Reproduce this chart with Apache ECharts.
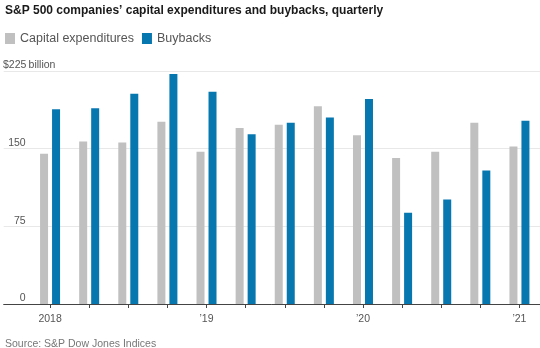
<!DOCTYPE html>
<html>
<head>
<meta charset="utf-8">
<script src="https://cdn.jsdelivr.net/npm/echarts@6/dist/echarts.min.js"></script>
<style>
  html, body { margin: 0; padding: 0; background: #fff; }
  #chart { width: 540px; height: 348px; }
</style>
</head>
<body>
<div id="chart"></div>
<script>
// Quarterly S&P 500 figures, billions of dollars
const quarters = ['2018 Q1', '2018 Q2', '2018 Q3', '2018 Q4',
                  '2019 Q1', '2019 Q2', '2019 Q3', '2019 Q4',
                  '2020 Q1', '2020 Q2', '2020 Q3', '2020 Q4',
                  '2021 Q1'];
const tickLabels = ['2018', '', '', '', '\u201919', '', '', '', '\u201920', '', '', '', '\u201921'];
const capex = [145, 157, 156, 176, 147, 170, 173, 191, 163, 141, 147, 175, 152];
const buybacks = [188, 189, 203, 222, 205, 164, 175, 180, 198, 88, 101, 129, 177];
const yTicks = [0, 75, 150, 225];

const FONT = '"Liberation Sans Narrow", "Liberation Sans", sans-serif';
const GRAY = '#c0c0c0';
const BLUE = '#0777b0';

const chart = echarts.init(document.getElementById('chart'), null, { renderer: 'canvas' });

const yMax = yTicks[yTicks.length - 1];
const yStep = yTicks[1] - yTicks[0];

chart.setOption({
  animation: false,
  textStyle: { fontFamily: FONT },
  title: [
    {
      text: 'S&P 500 companies\u2019 capital expenditures and buybacks, quarterly',
      left: 0, top: 0,
      textStyle: { fontFamily: FONT, fontSize: 12, fontWeight: 'bold', color: '#1a1a1a' }
    },
    {
      text: 'Source: S&P Dow Jones Indices',
      left: 0, top: 334,
      textStyle: { fontFamily: FONT, fontSize: 10.5, fontWeight: 'normal', color: '#777' }
    }
  ],
  legend: {
    left: 0, top: 27,
    icon: 'rect',
    itemWidth: 10, itemHeight: 11, itemGap: 8,
    textStyle: { fontFamily: FONT, fontSize: 12.5, color: '#555' },
    data: ['Capital expenditures', 'Buybacks']
  },
  grid: [
    // full-width frame carrying gridlines, value labels and the baseline
    { left: 0, right: 0, top: 71, bottom: 44 },
    // inner plot area holding the quarterly bars
    { left: 30.5, right: 1, top: 71, bottom: 44 }
  ],
  xAxis: [
    {
      gridIndex: 0, type: 'value', min: 0, max: 1,
      axisLine: { show: true, lineStyle: { color: '#444', width: 1 } },
      axisTick: { show: false }, axisLabel: { show: false }, splitLine: { show: false }
    },
    {
      gridIndex: 1, type: 'category', data: quarters,
      axisLine: { show: false },
      axisTick: { show: true, alignWithLabel: true, interval: 0, length: 4, lineStyle: { color: '#444' } },
      axisLabel: {
        interval: 0, margin: 10,
        fontFamily: FONT, fontSize: 10.5, color: '#555',
        formatter: (v, i) => tickLabels[i]
      }
    }
  ],
  yAxis: [
    {
      gridIndex: 0, type: 'value', min: 0, max: yMax, interval: yStep,
      axisLine: { show: false }, axisTick: { show: false },
      splitLine: { lineStyle: { color: '#e8e8e8', width: 1 } },
      axisLabel: {
        inside: true, margin: 0, verticalAlign: 'bottom', padding: 0,
        fontFamily: FONT, fontSize: 10.5, color: '#555',
        formatter: v => v === yMax ? '{n|$' + v + '}{u| billion}' : '{n|' + v + '}',
        rich: {
          n: { width: 22, align: 'right', fontFamily: FONT, fontSize: 10.5, color: '#555' },
          u: { fontFamily: FONT, fontSize: 10.5, color: '#555' }
        }
      }
    },
    {
      gridIndex: 1, type: 'value', min: 0, max: yMax, interval: yStep, show: false
    }
  ],
  series: [
    {
      name: 'Capital expenditures', type: 'bar',
      xAxisIndex: 1, yAxisIndex: 1,
      data: capex, barWidth: 8, barGap: '50%',
      itemStyle: { color: GRAY }
    },
    {
      name: 'Buybacks', type: 'bar',
      xAxisIndex: 1, yAxisIndex: 1,
      data: buybacks, barWidth: 8, barGap: '50%',
      itemStyle: { color: BLUE }
    }
  ]
});
</script>
</body>
</html>
